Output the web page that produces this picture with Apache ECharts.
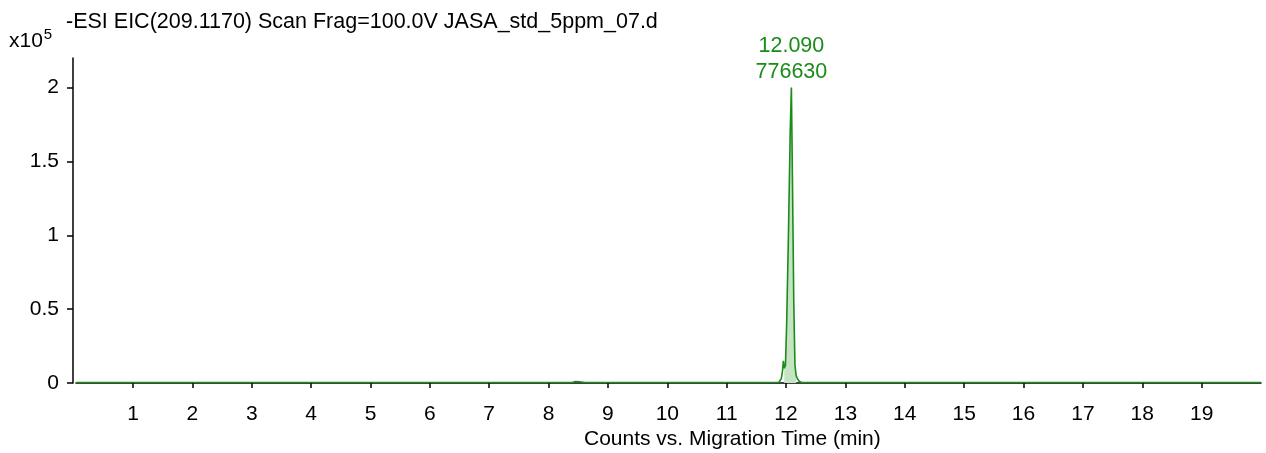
<!DOCTYPE html>
<html>
<head>
<meta charset="utf-8">
<script src="https://cdn.jsdelivr.net/npm/echarts@6/dist/echarts.min.js"></script>
<style>
html,body{margin:0;padding:0;background:#fff;}
#chart{width:1266px;height:453px;}
</style>
</head>
<body>
<div id="chart"></div>
<script>
// ---- Data (intensity in units of x10^5 counts) ----
const titleText = '-ESI EIC(209.1170) Scan Frag=100.0V JASA_std_5ppm_07.d';
const xAxisName = 'Counts vs. Migration Time (min)';
const xTicks = [1,2,3,4,5,6,7,8,9,10,11,12,13,14,15,16,17,18,19];
const yTicks = [0,0.5,1,1.5,2];
const times = [0.04, 2.0, 4.0, 6.0, 8.0, 8.40, 8.45, 8.48, 8.52, 8.55, 8.58, 8.62, 9.5, 10.5, 11.5, 11.88, 11.92, 11.94, 11.955, 11.97, 11.99, 12.01, 12.04, 12.07, 12.09, 12.11, 12.13, 12.15, 12.17, 12.19, 12.22, 12.26, 13.0, 15.0, 17.0, 19.0, 20.0];
const counts = [0.003, 0.003, 0.003, 0.003, 0.003, 0.003, 0.010, 0.015, 0.008, 0.015, 0.005, 0.003, 0.003, 0.003, 0.003, 0.005, 0.03, 0.08, 0.15, 0.10, 0.12, 0.40, 1.00, 1.70, 2.00, 1.30, 0.55, 0.12, 0.05, 0.03, 0.012, 0.003, 0.003, 0.003, 0.003, 0.003, 0.003];
const integStart = 11.97, integEnd = 12.17;
const peakTime = 12.09;
const peakHeight = 2.0;
const peakLabel = ['12.090', '776630'];

const lineData = times.map((t, i) => [t, counts[i]]);
const areaData = lineData.filter(p => p[0] >= integStart && p[0] <= integEnd);

const FONT = 'Liberation Sans, Arial, sans-serif';
const chart = echarts.init(document.getElementById('chart'), null, { renderer: 'canvas' });
chart.setOption({
  backgroundColor: '#fff',
  animation: false,
  title: [{
    text: titleText, left: 61, top: 6,
    textStyle: { fontFamily: FONT, fontSize: 21.5, fontWeight: 'normal', color: '#000' }
  }],
  graphic: [
    { type: 'text', left: 9, top: 27,
      style: { text: '{a|x10}{b|5}', rich: {
        a: { fontFamily: FONT, fontSize: 21, color: '#000', verticalAlign: 'bottom', lineHeight: 22 },
        b: { fontFamily: FONT, fontSize: 15, color: '#000', verticalAlign: 'top', padding: [0,0,10,1] } } } },
    { type: 'text', left: 584, top: 429,
      style: { text: xAxisName, fontFamily: FONT, fontSize: 21, fill: '#000' } }
  ],
  grid: { left: 76, right: 5, top: 58, bottom: 70, containLabel: false },
  xAxis: {
    type: 'value', min: 0.04, max: 20, offset: 9,
    axisLine: { show: true, lineStyle: { color: '#000', width: 1.5 } },
    axisTick: { show: true, length: 5, lineStyle: { color: '#000', width: 1.5 }, customValues: xTicks },
    axisLabel: { color: '#000', fontSize: 21, fontFamily: FONT, margin: 12, customValues: xTicks },
    splitLine: { show: false }
  },
  yAxis: {
    type: 'value', min: 0, max: 2.2, offset: 3,
    axisLine: { show: true, lineStyle: { color: '#000', width: 1.5 } },
    axisTick: { show: true, length: 6, lineStyle: { color: '#000', width: 1.5 }, customValues: yTicks },
    axisLabel: { color: '#000', fontSize: 21, fontFamily: FONT, margin: 14, customValues: yTicks,
      formatter: v => String(v) },
    splitLine: { show: false }
  },
  series: [
    { type: 'line', data: areaData, symbol: 'none', silent: true,
      lineStyle: { width: 0, opacity: 0 },
      areaStyle: { color: '#c4e4c4', opacity: 1 }, z: 1 },
    { type: 'line', data: lineData, symbol: 'none', showSymbol: false,
      lineStyle: { color: '#1a8c1a', width: 1.6 }, z: 2,
      markPoint: {
        symbol: 'circle', symbolSize: 1, silent: true,
        itemStyle: { color: 'rgba(0,0,0,0)' },
        data: [{ coord: [peakTime, peakHeight] }],
        label: { show: true, position: 'top', distance: 2,
          formatter: peakLabel.join('\n'),
          color: '#1a8c1a', fontSize: 21.5, lineHeight: 26, fontFamily: FONT }
      } }
  ]
});
</script>
</body>
</html>
